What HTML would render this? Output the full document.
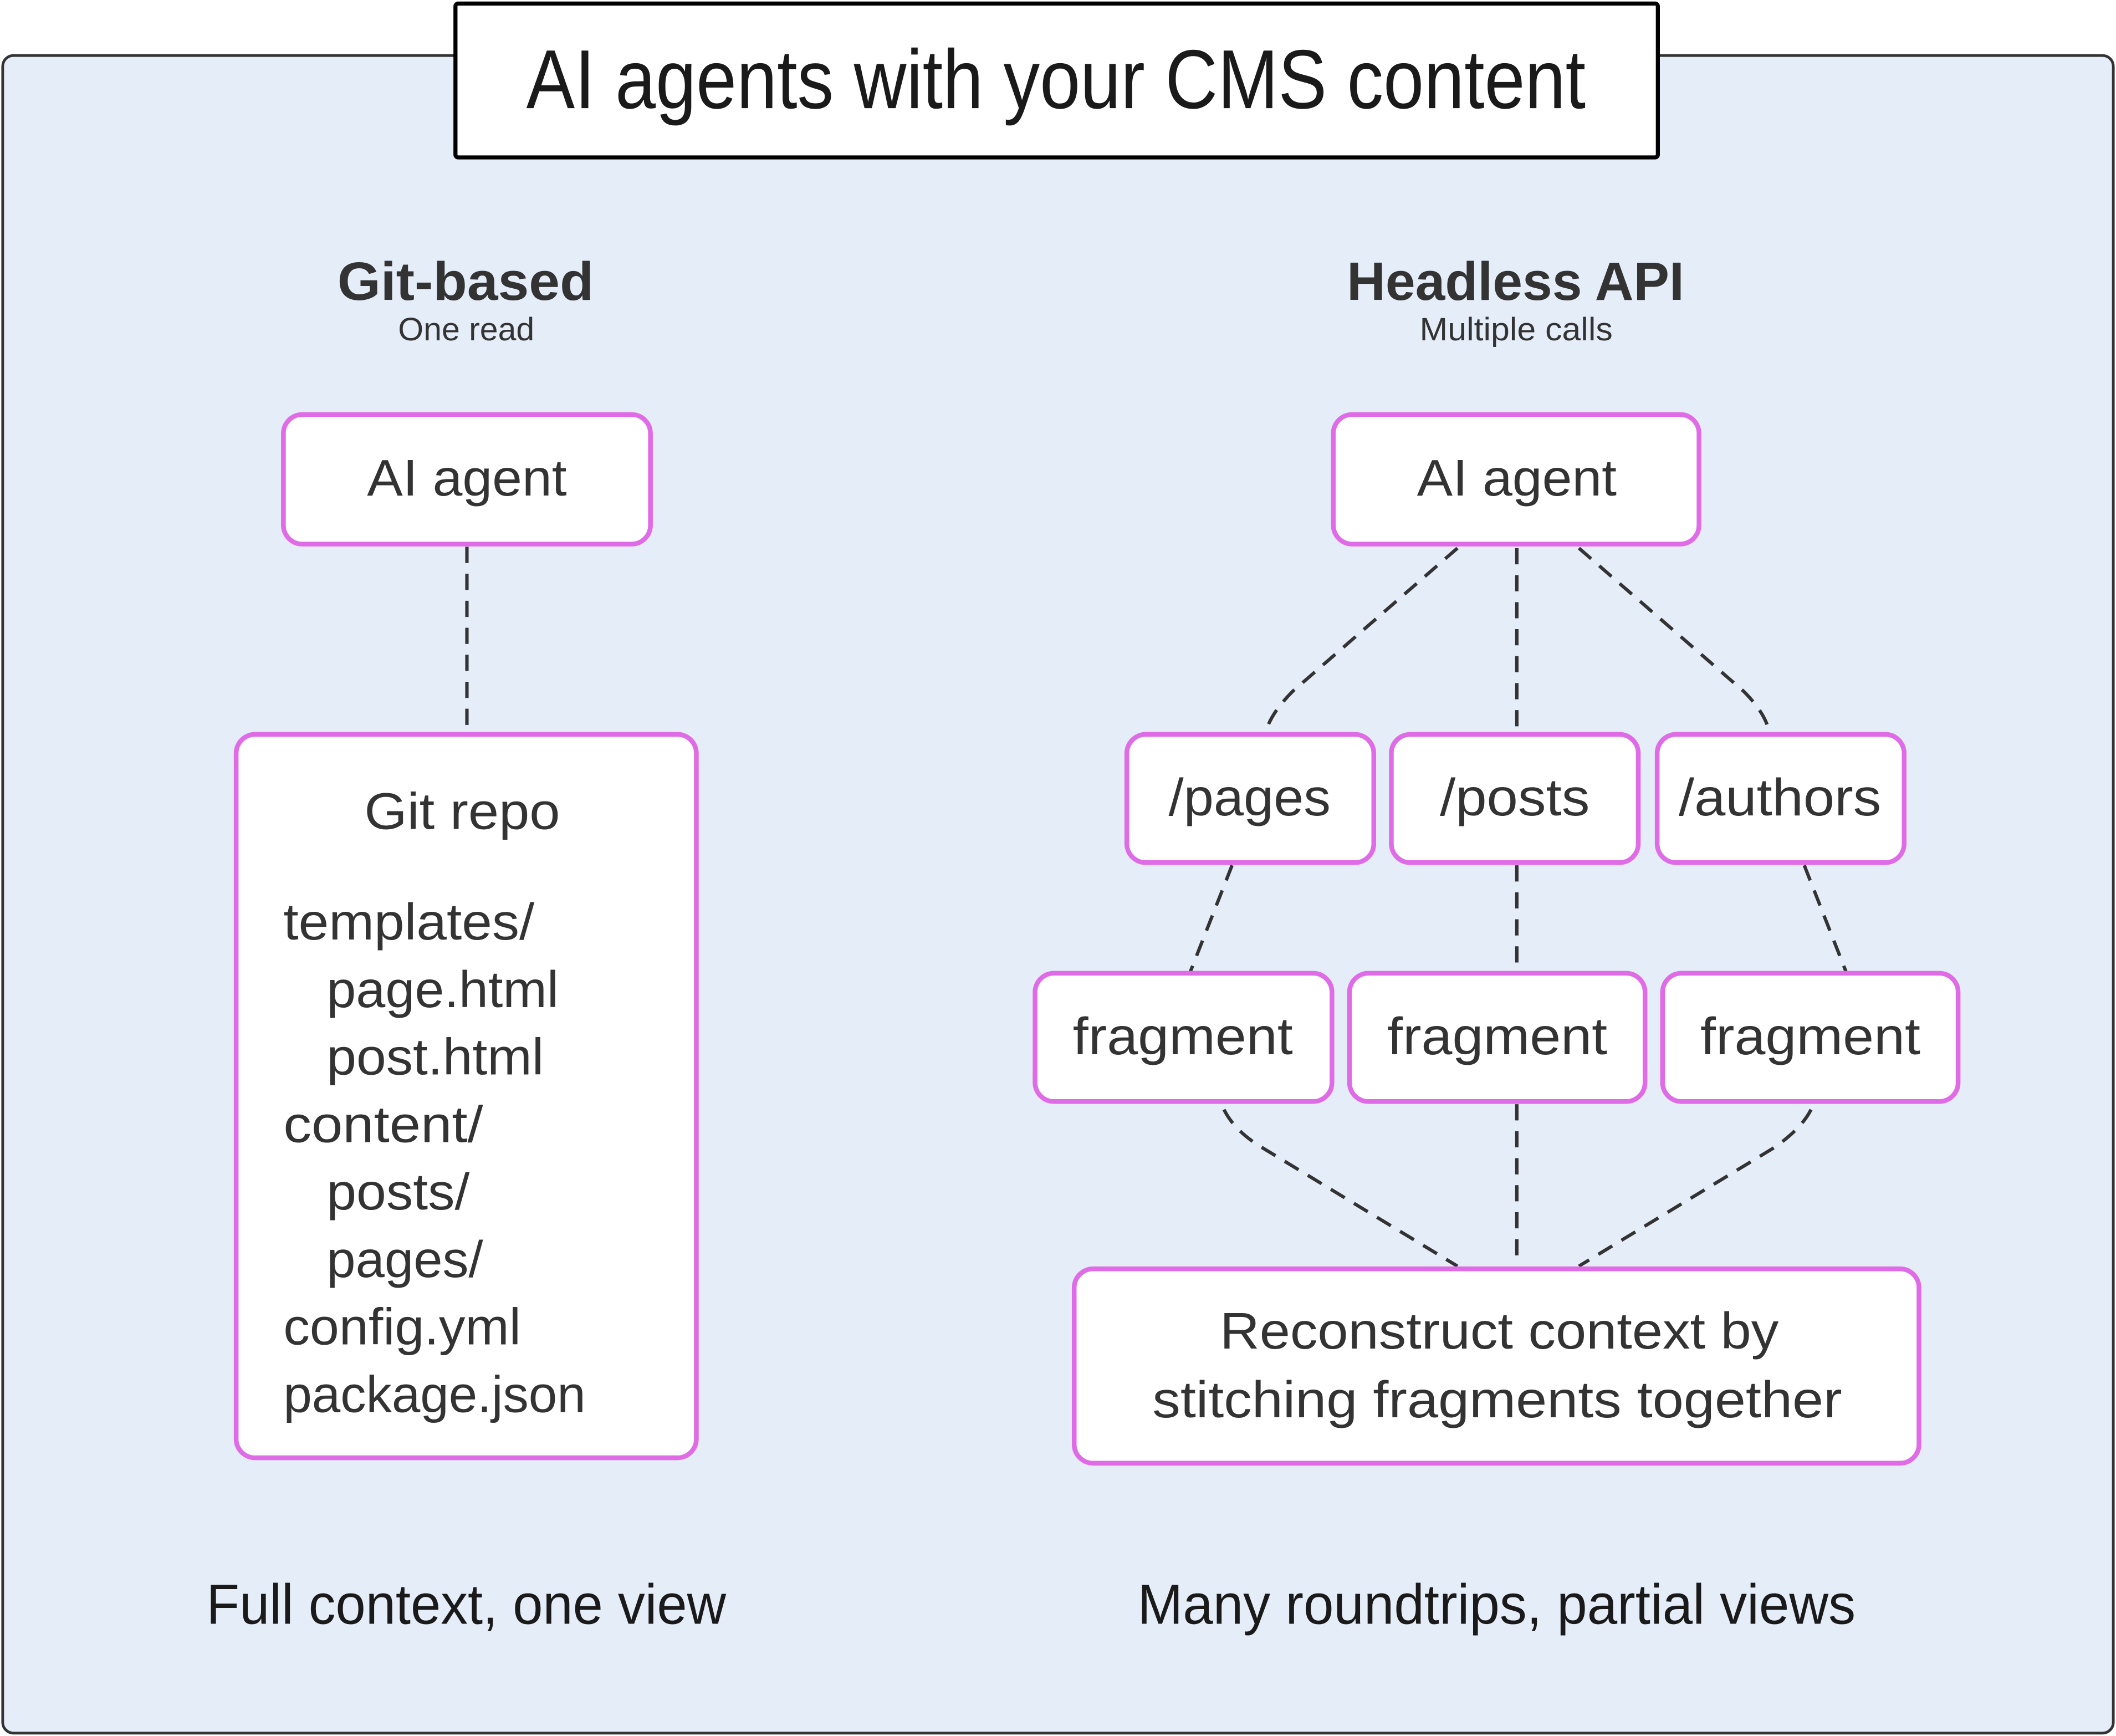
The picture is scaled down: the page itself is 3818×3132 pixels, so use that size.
<!DOCTYPE html>
<html><head><meta charset="utf-8"><style>
html,body{margin:0;padding:0;background:#fff;}
svg{display:block;}
text{font-family:"Liberation Sans",sans-serif;fill:#333;}
.hand{font-family:"Liberation Sans Narrow","Liberation Sans",sans-serif;fill:#1a1a1a;}
.box{fill:#fff;stroke:#e06be6;stroke-width:3.5;}
.dash{fill:none;stroke:#333;stroke-width:2.5;stroke-dasharray:12 8;}
</style></head><body>
<svg width="3818" height="3132" viewBox="0 0 1568 1286" xmlns="http://www.w3.org/2000/svg">
<rect x="0" y="0" width="1568" height="1286" fill="#fff"/>
<rect x="2" y="41" width="1564" height="1243" rx="8" fill="#e5edf9" stroke="#333" stroke-width="2"/>
<rect x="337.5" y="2.5" width="891" height="114" rx="2" fill="#fff" stroke="#000" stroke-width="3"/>
<text class="hand" x="390" y="80" font-size="62" textLength="785" lengthAdjust="spacingAndGlyphs">AI agents with your CMS content</text>

<text x="250" y="222" font-size="40" font-weight="bold" textLength="190" lengthAdjust="spacingAndGlyphs">Git-based</text>
<text x="295" y="252" font-size="24" textLength="101" lengthAdjust="spacingAndGlyphs">One read</text>
<text x="998" y="222" font-size="40" font-weight="bold" textLength="250" lengthAdjust="spacingAndGlyphs">Headless API</text>
<text x="1052" y="252" font-size="24" textLength="143" lengthAdjust="spacingAndGlyphs">Multiple calls</text>

<!-- connectors -->
<path class="dash" d="M346 405 L346 543"/>
<path class="dash" d="M1080 406 L958 512 Q942 528 938 542"/>
<path class="dash" d="M1124 406 L1124 543"/>
<path class="dash" d="M1170 406 L1292 512 Q1308 528 1311 542"/>
<path class="dash" d="M913 641 L882 720"/>
<path class="dash" d="M1124 641 L1124 720"/>
<path class="dash" d="M1337 641 L1368 720"/>
<path class="dash" d="M907 822 Q915 838 935 850 L1080 938"/>
<path class="dash" d="M1124 818 L1124 938"/>
<path class="dash" d="M1342 822 Q1335 836 1315 850 L1170 938"/>

<!-- left -->
<rect class="box" x="210" y="307" width="272" height="96" rx="14"/>
<text x="272" y="367" font-size="38" textLength="148" lengthAdjust="spacingAndGlyphs">AI agent</text>
<rect class="box" x="175" y="544" width="341" height="536" rx="14"/>
<text x="270" y="614" font-size="38" textLength="145" lengthAdjust="spacingAndGlyphs">Git repo</text>
<g font-size="38">
<text x="210" y="696" textLength="186" lengthAdjust="spacingAndGlyphs">templates/</text>
<text x="242" y="746" textLength="172" lengthAdjust="spacingAndGlyphs">page.html</text>
<text x="242" y="796" textLength="161" lengthAdjust="spacingAndGlyphs">post.html</text>
<text x="210" y="846" textLength="148" lengthAdjust="spacingAndGlyphs">content/</text>
<text x="242" y="896" textLength="106" lengthAdjust="spacingAndGlyphs">posts/</text>
<text x="242" y="946" textLength="116" lengthAdjust="spacingAndGlyphs">pages/</text>
<text x="210" y="996" textLength="176" lengthAdjust="spacingAndGlyphs">config.yml</text>
<text x="210" y="1046" textLength="224" lengthAdjust="spacingAndGlyphs">package.json</text>
</g>

<!-- right -->
<rect class="box" x="988" y="307" width="271" height="96" rx="14"/>
<text x="1050" y="367" font-size="38" textLength="148" lengthAdjust="spacingAndGlyphs">AI agent</text>
<rect class="box" x="835" y="544" width="183" height="95" rx="14"/>
<text x="866" y="604" font-size="39" textLength="120" lengthAdjust="spacingAndGlyphs">/pages</text>
<rect class="box" x="1031" y="544" width="183" height="95" rx="14"/>
<text x="1067" y="604" font-size="39" textLength="111" lengthAdjust="spacingAndGlyphs">/posts</text>
<rect class="box" x="1228" y="544" width="183" height="95" rx="14"/>
<text x="1244" y="604" font-size="39" textLength="150" lengthAdjust="spacingAndGlyphs">/authors</text>
<rect class="box" x="767" y="721" width="220" height="95" rx="14"/>
<text x="795" y="781" font-size="39" textLength="163" lengthAdjust="spacingAndGlyphs">fragment</text>
<rect class="box" x="1000" y="721" width="219" height="95" rx="14"/>
<text x="1028" y="781" font-size="39" textLength="163" lengthAdjust="spacingAndGlyphs">fragment</text>
<rect class="box" x="1232" y="721" width="219" height="95" rx="14"/>
<text x="1260" y="781" font-size="39" textLength="163" lengthAdjust="spacingAndGlyphs">fragment</text>
<rect class="box" x="796" y="940" width="626" height="144" rx="14"/>
<text x="904" y="999" font-size="38" textLength="414" lengthAdjust="spacingAndGlyphs">Reconstruct context by</text>
<text x="854" y="1050" font-size="38" textLength="511" lengthAdjust="spacingAndGlyphs">stitching fragments together</text>

<text class="hand" x="153" y="1203" font-size="42" textLength="385" lengthAdjust="spacingAndGlyphs">Full context, one view</text>
<text class="hand" x="843" y="1203" font-size="42" textLength="532" lengthAdjust="spacingAndGlyphs">Many roundtrips, partial views</text>
</svg>
</body></html>
